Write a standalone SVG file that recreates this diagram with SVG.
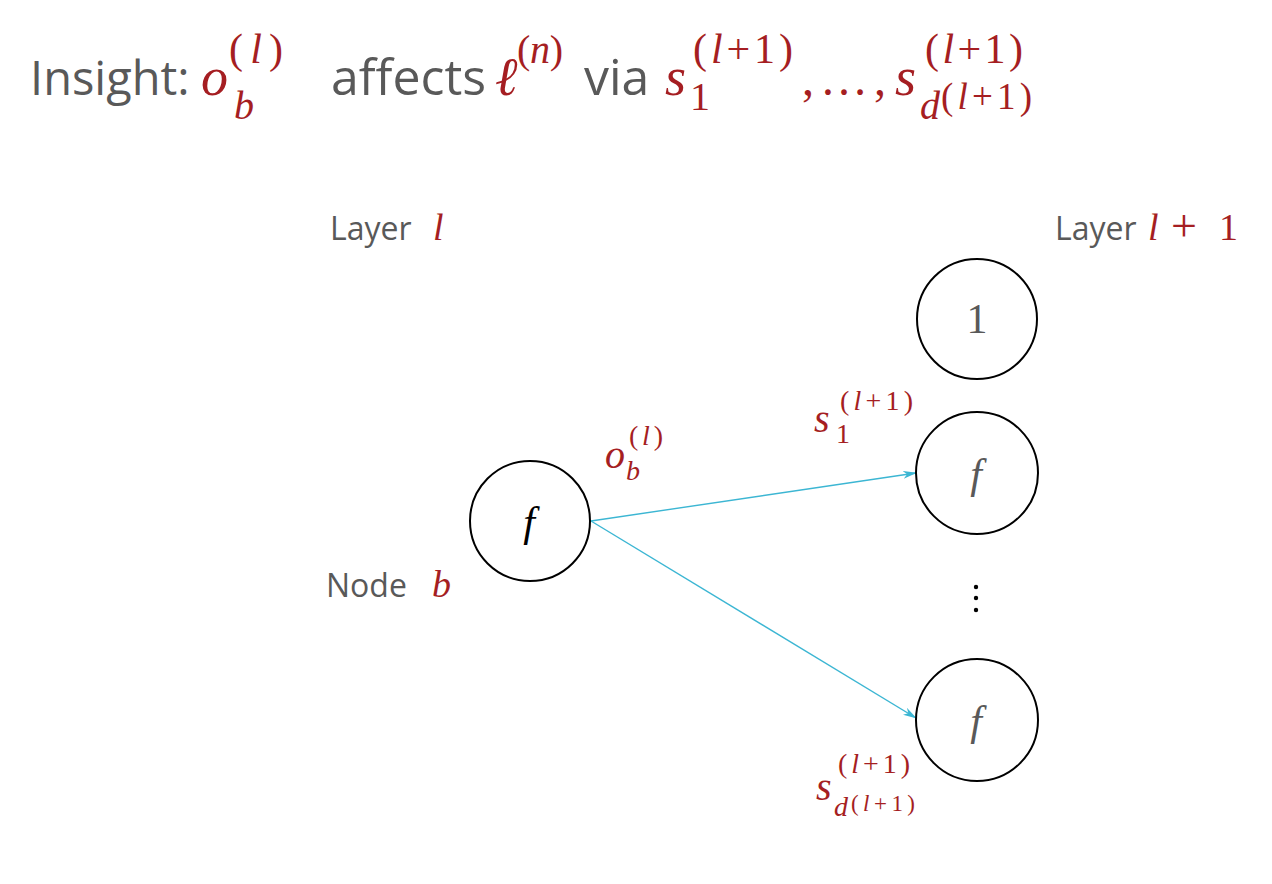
<svg xmlns="http://www.w3.org/2000/svg" width="1272" height="884" viewBox="0 0 1272 884">
<style>
.g{font-family:"Open Sans","Liberation Sans",sans-serif;fill:#595959}
.m{font-family:"Liberation Serif","DejaVu Serif",serif;font-style:italic;fill:#A51E22}
.mu{font-family:"Liberation Serif","DejaVu Serif",serif;fill:#A51E22}
.c{fill:#fff;stroke:#000;stroke-width:2}
.e{stroke:#3CB6D3;stroke-width:1.4;fill:none;marker-end:url(#ah)}
.f{font-family:"Liberation Serif","DejaVu Serif",serif;font-style:italic;font-size:42px;text-anchor:middle}
</style>
<defs>
<marker id="ah" viewBox="0 0 14 8" refX="13" refY="4" markerWidth="14" markerHeight="8" markerUnits="userSpaceOnUse" orient="auto">
<path d="M0,0 L14,4 L0,8 L4,4 Z" fill="#3CB6D3"/>
</marker>
</defs>
<rect width="1272" height="884" fill="#fff"/>
<g id="title">
<text class="g" x="30" y="95" font-size="47">Insight:</text>
<text class="m" x="201" y="95" font-size="54">o</text>
<text class="mu" x="229" y="63" font-size="42" textLength="54" lengthAdjust="spacing">(<tspan class="m">l</tspan>)</text>
<text class="m" x="234" y="119" font-size="40">b</text>
<text class="g" x="331" y="95" font-size="50">affects</text>
<text class="m" x="495" y="95" font-size="54">ℓ</text>
<text class="mu" x="517" y="63" font-size="40" textLength="46" lengthAdjust="spacing">(<tspan class="m">n</tspan>)</text>
<text class="g" x="584" y="95" font-size="50">via</text>
<text class="m" x="665" y="95" font-size="54">s</text>
<text class="mu" x="693" y="63" font-size="42" textLength="100" lengthAdjust="spacing">(<tspan class="m">l</tspan>+1)</text>
<text class="mu" x="690" y="110" font-size="40">1</text>
<text class="mu" x="802" y="95" font-size="48" textLength="84" lengthAdjust="spacing">, … ,</text>
<text class="m" x="895" y="95" font-size="54">s</text>
<text class="mu" x="925" y="63" font-size="42" textLength="98" lengthAdjust="spacing">(<tspan class="m">l</tspan>+1)</text>
<text class="m" x="920" y="119" font-size="40">d</text>
<text class="mu" x="941" y="109" font-size="37" textLength="91" lengthAdjust="spacing">(<tspan class="m">l</tspan>+1)</text>
</g>
<g id="layer-l">
<text class="g" x="330" y="240" font-size="32">Layer</text>
<text class="m" x="433" y="240" font-size="38">l</text>
</g>
<g id="layer-l1">
<text class="g" x="1055" y="240" font-size="32">Layer</text>
<text class="m" x="1148" y="240" font-size="38">l</text>
<text class="mu" x="1171" y="241" font-size="46">+</text>
<text class="mu" x="1219" y="240" font-size="38">1</text>
</g>
<g id="node-b-label">
<text class="g" x="326" y="597" font-size="32">Node</text>
<text class="m" x="432" y="597" font-size="38">b</text>
</g>
<g id="connectors">
<line class="e" x1="591" y1="521" x2="916" y2="473"/>
<line class="e" x1="591" y1="521" x2="916" y2="718"/>
</g>
<g id="node-b">
<circle class="c" cx="530" cy="521" r="60"/>
<text class="f" x="529" y="536" fill="#000">f</text>
</g>
<g id="node-1">
<circle class="c" cx="977" cy="319" r="60"/>
<text x="977" y="333" font-family="Liberation Serif, serif" font-size="42" fill="#595959" text-anchor="middle">1</text>
</g>
<g id="node-f1">
<circle class="c" cx="977" cy="473" r="61"/>
<text class="f" x="976" y="488" fill="#595959">f</text>
</g>
<g id="dots">
<circle cx="976" cy="587" r="2.2" fill="#000"/>
<circle cx="976" cy="598" r="2.2" fill="#000"/>
<circle cx="976" cy="610" r="2.2" fill="#000"/>
</g>
<g id="node-fd">
<circle class="c" cx="977" cy="720" r="61"/>
<text class="f" x="976" y="735" fill="#595959">f</text>
</g>
<g id="label-o">
<text class="m" x="605" y="468" font-size="40">o</text>
<text class="mu" x="629" y="445" font-size="28" textLength="34" lengthAdjust="spacing">(<tspan class="m">l</tspan>)</text>
<text class="m" x="626" y="480" font-size="28">b</text>
</g>
<g id="label-s1">
<text class="m" x="814" y="432" font-size="40">s</text>
<text class="mu" x="840" y="410" font-size="28" textLength="73" lengthAdjust="spacing">(<tspan class="m">l</tspan>+1)</text>
<text class="mu" x="836" y="443" font-size="28">1</text>
</g>
<g id="label-sd">
<text class="m" x="816" y="800" font-size="40">s</text>
<text class="mu" x="838" y="773" font-size="28" textLength="72" lengthAdjust="spacing">(<tspan class="m">l</tspan>+1)</text>
<text class="m" x="834" y="816" font-size="28">d</text>
<text class="mu" x="851" y="811" font-size="23" textLength="64" lengthAdjust="spacing">(<tspan class="m">l</tspan>+1)</text>
</g>
</svg>
